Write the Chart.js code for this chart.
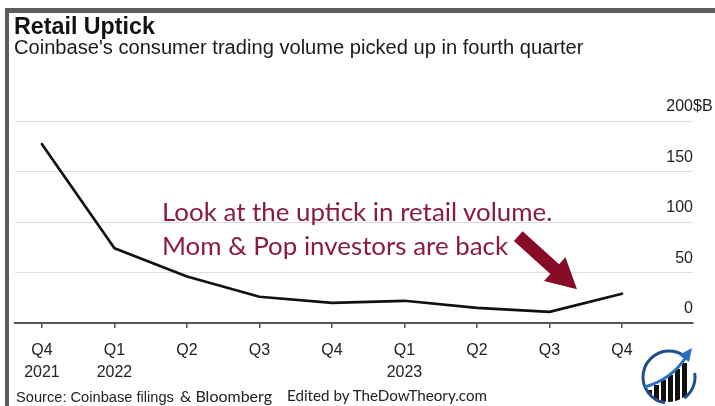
<!DOCTYPE html>
<html><head><meta charset="utf-8">
<script src="https://cdn.jsdelivr.net/npm/chart.js@4"></script>
<style>
html,body{margin:0;padding:0;background:#fff;}
#wrap{position:relative;width:715px;height:406px;overflow:hidden;background:#fff;}
#c{position:absolute;left:0;top:0;}
.t{position:absolute;white-space:nowrap;margin:0;}
.bt{position:absolute;left:5px;top:8px;width:710px;height:5px;background:#5c5c5c;}
.bl{position:absolute;left:5px;top:8px;width:4px;height:398px;background:#5c5c5c;}
</style></head>
<body><div id="wrap">
<canvas id="c" width="715" height="406"></canvas>
<div class="bt"></div><div class="bl"></div>
<div class="t" id="title">Retail Uptick</div>
<div class="t" id="subtitle">Coinbase's consumer trading volume picked up in fourth quarter</div>
<div class="t" id="ann1">Look at the uptick in retail volume.</div>
<div class="t" id="ann2">Mom &amp; Pop investors are back</div>
<div class="t" id="src1">Source: Coinbase filings</div>
<div class="t" id="src2">&amp; Bloomberg</div>
<div class="t" id="src3">Edited by TheDowTheory.com</div>
</div>
<script>
// ---- data ----
const quarters = ["Q4", "Q1", "Q2", "Q3", "Q4", "Q1", "Q2", "Q3", "Q4"];
const years    = ["2021", "2022", "", "", "", "2023", "", "", ""];
const volume   = [177, 74, 46, 26, 20, 22, 15, 11, 29]; // $B
const yTicks   = [0, 50, 100, 150, 200];

// ---- text placement ----
const mc = document.createElement('canvas').getContext('2d');
function place(id, o){
  const el = document.getElementById(id);
  const w = o.weight || 'normal';
  let fs = o.size;
  if (!fs) { mc.font = `${w} 100px ${o.family}`; fs = 100 * o.width / mc.measureText(el.textContent).width; }
  mc.font = `${w} ${fs}px ${o.family}`;
  const m = mc.measureText(el.textContent);
  const A = m.fontBoundingBoxAscent, D = m.fontBoundingBoxDescent;
  const top = o.baseline - ((fs - (A + D)) / 2 + A);
  el.style.font = `${w} ${fs}px/${fs}px ${o.family}`;
  el.style.left = o.x + 'px'; el.style.top = top + 'px'; el.style.color = o.color;
  return fs;
}
const SANS = "'Liberation Sans', Arial, sans-serif";
const HUM = "Lato, 'Open Sans', sans-serif";
place('title', {family: SANS, weight: 'bold', x: 14, baseline: 35, width: 141, color: '#111'});
place('subtitle', {family: SANS, x: 14, baseline: 54, width: 570, color: '#1a1a1a'});
const afs = place('ann1', {family: HUM, x: 162, baseline: 222, width: 391, color: '#8c1a3b'});
place('ann2', {family: HUM, x: 162, baseline: 256, size: afs, color: '#8c1a3b'});
place('src1', {family: SANS, x: 16, baseline: 402, width: 158, color: '#222'});
place('src2', {family: HUM, x: 180, baseline: 402, width: 92, color: '#222'});
place('src3', {family: HUM, x: 287, baseline: 402, width: 201, color: '#222'});

// ---- plugins ----
const yLabels = {
  id: 'yLabels',
  afterDraw(chart){
    const ctx = chart.ctx, ys = chart.scales.y, right = chart.chartArea.right;
    ctx.save();
    ctx.font = "16px " + SANS; ctx.fillStyle = '#222'; ctx.textBaseline = 'alphabetic';
    yTicks.forEach(v => {
      const y = ys.getPixelForValue(v) - 10;
      ctx.textAlign = 'right'; ctx.fillText(String(v), right, y);
      if (v === yTicks[yTicks.length - 1]) { ctx.textAlign = 'left'; ctx.fillText('$B', right, y); }
    });
    ctx.restore();
  }
};
const arrow = {
  id: 'arrow',
  afterDatasetsDraw(chart){
    const ctx = chart.ctx, xs = chart.scales.x, ys = chart.scales.y;
    const x0 = xs.getPixelForValue(6.57), y0 = ys.getPixelForValue(86);
    const x1 = xs.getPixelForValue(7.38), y1 = ys.getPixelForValue(33.5);
    const dx = x1 - x0, dy = y1 - y0, L = Math.hypot(dx, dy);
    const ux = dx / L, uy = dy / L, nx = -uy, ny = ux;
    const hl = 30, sw = 6.5, hw = 16;
    const bx = x1 - ux * hl, by = y1 - uy * hl;
    ctx.save();
    ctx.fillStyle = '#870b27';
    ctx.beginPath();
    ctx.moveTo(x0 + nx * sw, y0 + ny * sw);
    ctx.lineTo(bx + nx * sw, by + ny * sw);
    ctx.lineTo(bx + nx * hw, by + ny * hw);
    ctx.lineTo(x1, y1);
    ctx.lineTo(bx - nx * hw, by - ny * hw);
    ctx.lineTo(bx - nx * sw, by - ny * sw);
    ctx.lineTo(x0 - nx * sw, y0 - ny * sw);
    ctx.closePath(); ctx.fill();
    ctx.restore();
  }
};
const logo = {
  id: 'logo',
  afterDraw(chart){
    const ctx = chart.ctx, cx = 669, cy = 377, r = 26;
    ctx.save();
    ctx.save();
    ctx.beginPath(); ctx.arc(cx, cy, r - 1, 0, Math.PI * 2); ctx.clip();
    ctx.fillStyle = '#111';
    const bars = [[647, 390], [654, 385], [661, 380], [668, 375], [675, 369], [682, 363]];
    bars.forEach(([bx, top]) => ctx.fillRect(bx, top, 5, 40));
    ctx.restore();
    ctx.strokeStyle = '#1d4f8c'; ctx.lineWidth = 3;
    ctx.beginPath(); ctx.arc(cx, cy, r, Math.PI * 0.55, Math.PI * 1.75); ctx.stroke();
    ctx.beginPath(); ctx.arc(cx, cy, r, Math.PI * 1.95, Math.PI * 2.3); ctx.stroke();
    ctx.strokeStyle = '#2a6fc0'; ctx.lineWidth = 3;
    ctx.beginPath(); ctx.moveTo(645, 387); ctx.quadraticCurveTo(672, 379, 686, 357); ctx.stroke();
    ctx.fillStyle = '#2a6fc0';
    ctx.beginPath(); ctx.moveTo(692, 348); ctx.lineTo(679, 355); ctx.lineTo(689, 362); ctx.closePath(); ctx.fill();
    ctx.restore();
  }
};

// ---- chart ----
const chart = new Chart(document.getElementById('c'), {
  type: 'line',
  data: {
    labels: quarters,
    datasets: [{
      data: volume.map((v, i) => ({x: i, y: v})),
      borderColor: '#111', borderWidth: 2.7, pointRadius: 0, tension: 0, fill: false,
      borderJoinStyle: 'round', borderCapStyle: 'round'
    }]
  },
  options: {
    responsive: false, animation: false,
    layout: {padding: {left: 15, right: 22, top: 121, bottom: 24}},
    plugins: {legend: {display: false}, tooltip: {enabled: false}},
    scales: {
      x: {
        type: 'linear', min: -0.372, max: 8.98,
        afterBuildTicks: a => { a.ticks = quarters.map((_, i) => ({value: i})); },
        grid: {display: true, drawOnChartArea: false, drawTicks: true, tickLength: 5, color: '#555', lineWidth: 1.5},
        border: {display: true, color: '#555', width: 2},
        ticks: {
          autoSkip: false, maxRotation: 0, minRotation: 0, padding: 11, color: '#222',
          font: {family: SANS, size: 16, lineHeight: 1.4},
          callback: v => [quarters[v], years[v]]
        }
      },
      y: {
        position: 'right', min: 0, max: 200,
        ticks: {display: false, stepSize: 50},
        grid: {color: '#dddddd', lineWidth: 1, drawTicks: false},
        border: {display: false}
      }
    }
  },
  plugins: [yLabels, arrow, logo]
});
const d = chart.chartArea.bottom - 323;
if (Math.abs(d) > 0.5) { chart.options.layout.padding.bottom += d; chart.update(); }
</script>
</body></html>
